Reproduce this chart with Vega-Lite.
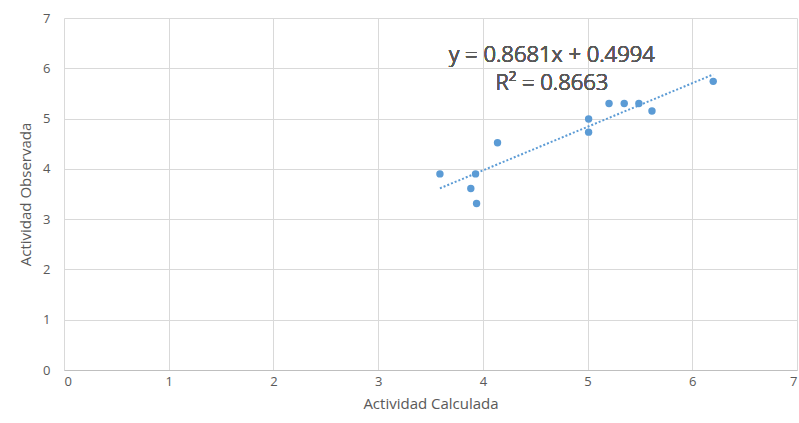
{
  "$schema": "https://vega.github.io/schema/vega-lite/v6.json",
  "autosize": {"type": "none"},
  "padding": {"left": 64, "top": 18, "right": 2, "bottom": 53},
  "width": 733,
  "height": 352,
  "background": "white",
  "config": {
    "view": {"stroke": null},
    "font": "Open Sans",
    "axis": {
      "gridColor": "#d9d9d9",
      "gridWidth": 1,
      "domainColor": "#bfbfbf",
      "ticks": false,
      "labelColor": "#595959",
      "labelFontSize": 13,
      "labelFont": "Open Sans",
      "labelOverlap": false,
      "titleColor": "#595959",
      "titleFontSize": 15,
      "titleFont": "Open Sans",
      "titleFontWeight": "normal"
    }
  },
  "data": {
    "values": [
      {"calc": 3.59, "obs": 3.90},
      {"calc": 3.885, "obs": 3.61},
      {"calc": 3.93, "obs": 3.90},
      {"calc": 3.94, "obs": 3.31},
      {"calc": 4.14, "obs": 4.52},
      {"calc": 5.01, "obs": 4.99},
      {"calc": 5.01, "obs": 4.73},
      {"calc": 5.205, "obs": 5.30},
      {"calc": 5.35, "obs": 5.30},
      {"calc": 5.49, "obs": 5.30},
      {"calc": 5.615, "obs": 5.15},
      {"calc": 6.20, "obs": 5.74}
    ]
  },
  "layer": [
    {
      "mark": {"type": "point", "filled": true, "size": 55, "color": "#5b9bd5", "opacity": 1},
      "encoding": {
        "x": {"field": "calc", "type": "quantitative", "scale": {"domain": [0, 7], "nice": false, "zero": true},
              "axis": {"title": "Actividad Calculada", "values": [0,1,2,3,4,5,6,7], "format": "d", "labelOverlap": false, "labelPadding": 5, "titlePadding": 8, "domain": true}},
        "y": {"field": "obs", "type": "quantitative", "scale": {"domain": [0, 7], "nice": false},
              "axis": {"title": "Actividad Observada", "values": [0,1,2,3,4,5,6,7], "format": "d", "labelOverlap": false, "labelPadding": 14, "titlePadding": 9, "domain": false}}
      }
    },
    {
      "transform": [{"regression": "obs", "on": "calc", "method": "linear"}],
      "mark": {"type": "line", "color": "#5b9bd5", "strokeWidth": 2, "strokeDash": [2, 2]},
      "encoding": {
        "x": {"field": "calc", "type": "quantitative"},
        "y": {"field": "obs", "type": "quantitative"}
      }
    },
    {
      "mark": {"type": "text", "fontSize": 22, "fontWeight": 300, "color": "#595959", "font": "Noto Sans", "align": "center", "baseline": "middle"},
      "encoding": {
        "x": {"datum": 4.66, "type": "quantitative"},
        "y": {"datum": 6.27, "type": "quantitative"},
        "text": {"value": "y = 0.8681x + 0.4994"}
      }
    },
    {
      "mark": {"type": "text", "fontSize": 22, "fontWeight": 300, "color": "#595959", "font": "Noto Sans", "align": "center", "baseline": "middle"},
      "encoding": {
        "x": {"datum": 4.66, "type": "quantitative"},
        "y": {"datum": 5.70, "type": "quantitative"},
        "text": {"value": "R² = 0.8663"}
      }
    }
  ]
}
